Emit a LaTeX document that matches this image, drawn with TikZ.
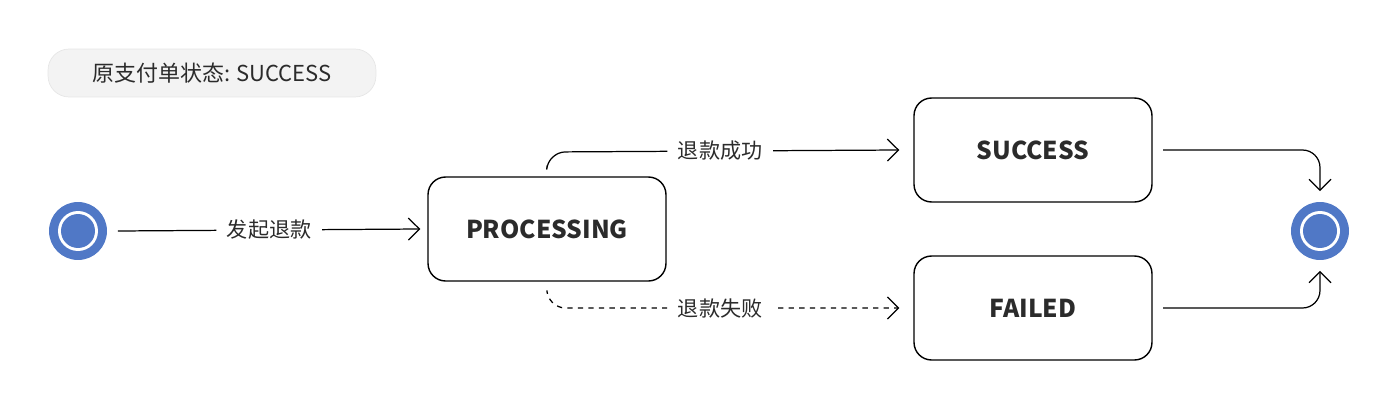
\documentclass[tikz,border=0pt]{standalone}
\usepackage{fontspec}
\setmainfont{Noto Sans CJK SC}
\usetikzlibrary{positioning, arrows.meta, shapes}
\definecolor{stateblue}{HTML}{5078C6}
\definecolor{pillgray}{HTML}{F3F3F3}
\definecolor{pillline}{HTML}{E6E6E6}
\definecolor{textgray}{HTML}{2B2B2B}

\begin{document}
\begin{tikzpicture}[x=0.02cm, y=-0.02cm,
    state/.style={rectangle, rounded corners=10pt, draw=black, line width=0.8pt, minimum width=4.76cm, minimum height=2.08cm, font=\bfseries\fontsize{14}{16}\selectfont, text=textgray},
    terminal/.style={circle, fill=stateblue, minimum size=1.16cm, inner sep=0pt},
    lbl/.style={fill=white, inner sep=6pt, font=\fontsize{12}{14}\selectfont, text=textgray},
    flow/.style={line width=0.7pt, -{Straight Barb[length=2.2mm, width=4.4mm]}, rounded corners=10pt}]

\useasboundingbox (0,0) rectangle (1397,409);

% Original payment status
\node[rectangle, rounded corners=12pt, fill=pillgray, draw=pillline, minimum width=6.56cm, minimum height=0.96cm, font=\fontsize{12.5}{14}\selectfont, text=textgray] (origin) at (212,73) {原支付单状态: SUCCESS};

% Start and end
\node[terminal] (start) at (78,231) {};
\fill[white] (start) circle (0.4cm);
\fill[stateblue] (start) circle (0.34cm);
\node[terminal] (finish) at (1320,231) {};
\fill[white] (finish) circle (0.4cm);
\fill[stateblue] (finish) circle (0.34cm);

% States
\node[state] (processing) at (547,229) {PROCESSING};
\node[state] (success) at (1033,150) {SUCCESS};
\node[state] (failed) at (1033,308) {FAILED};

\coordinate (topbend) at (548,152);
\coordinate (lowbend) at (548,308);

% Transitions
\draw[flow] ([xshift=6pt]start.east) -- node[lbl] {发起退款} ([xshift=-4pt]processing.west);
\draw[flow] ([yshift=6pt]processing.north) -- (topbend) -- node[lbl, pos=0.49] {退款成功} ([xshift=-8pt]success.west);
\draw[flow, dashed] ([yshift=-6pt]processing.south) -- (lowbend) -- node[lbl, pos=0.49] {退款失败} ([xshift=-8pt]failed.west);
\draw[flow] ([xshift=6pt]success.east) -| ([yshift=6pt]finish.north);
\draw[flow] ([xshift=6pt]failed.east) -| ([yshift=-6pt]finish.south);

\end{tikzpicture}
\end{document}
